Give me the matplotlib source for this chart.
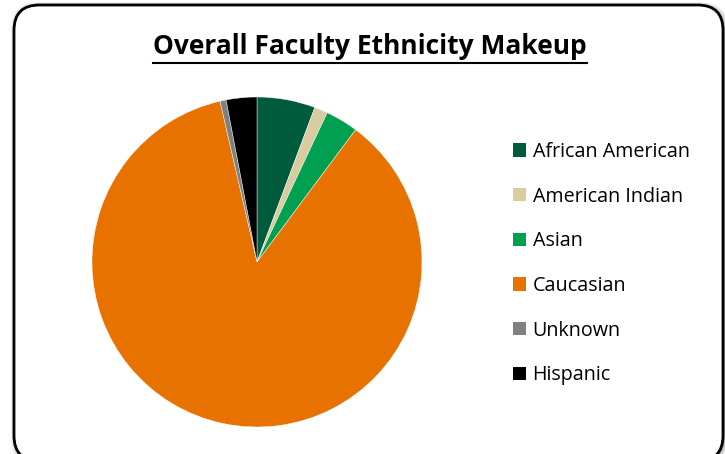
import matplotlib
matplotlib.use("Agg")
import matplotlib.pyplot as plt
from matplotlib.patches import FancyBboxPatch, Patch
from matplotlib.lines import Line2D

categories = ["African American", "American Indian", "Asian", "Caucasian", "Unknown", "Hispanic"]
values = [5.7, 1.3, 3.2, 86.2, 0.6, 3.0]
colors = ["#005A3C", "#D9CCA0", "#00A050", "#E87200", "#808080", "#000000"]
title = "Overall Faculty Ethnicity Makeup"

W, H = 725, 454
fig = plt.figure(figsize=(W / 100, H / 100), dpi=100)
fig.patch.set_facecolor("white")

def fx(px):
    return px / W

def fy(py):
    return 1 - py / H

BX0, BX1, BY0, BY1 = 14, 723, 5, 461

# soft shadow
for grow, a in [(4, 0.05), (3, 0.07), (2, 0.10), (1, 0.14)]:
    sh = FancyBboxPatch((fx(BX0 - grow + 1), fy(BY1 + grow + 1)),
                        fx(BX1 - BX0 + 2 * grow), (BY1 - BY0 + 2 * grow) / H,
                        boxstyle="round,pad=0,rounding_size=0.037",
                        transform=fig.transFigure, facecolor="black", edgecolor="none",
                        alpha=a, mutation_aspect=W / H, zorder=-3)
    fig.patches.append(sh)
box = FancyBboxPatch((fx(BX0), fy(BY1)), fx(BX1 - BX0), (BY1 - BY0) / H,
                     boxstyle="round,pad=0,rounding_size=0.035",
                     transform=fig.transFigure, facecolor="white", edgecolor="black",
                     linewidth=2, mutation_aspect=W / H, zorder=-2)
fig.patches.append(box)

ax = fig.add_axes([fx(92), fy(427), 330 / W, 330 / H])
ax.set_zorder(1)
ax.pie(values, colors=colors, startangle=90, counterclock=False,
       wedgeprops=dict(linewidth=0.3, edgecolor="white"))
ax.set_xlim(-1.0, 1.0)
ax.set_ylim(-1.0, 1.0)
ax.set_aspect("equal")
ax.axis("off")

t = fig.text(fx(370), fy(46), title, ha="center", va="center",
             fontsize=19, fontweight="bold", family="Open Sans", color="black", zorder=2)
fig.canvas.draw()
bb = t.get_window_extent(fig.canvas.get_renderer())
uy = fy(63)
fig.add_artist(Line2D([bb.x0 / W, bb.x1 / W], [uy, uy], transform=fig.transFigure,
                      color="black", linewidth=1.5, zorder=2))

handles = [Patch(facecolor=c, edgecolor="none") for c in colors]
leg = fig.legend(handles, categories, loc="upper left", bbox_to_anchor=(fx(505), fy(134)),
                 frameon=False, prop=dict(family="Open Sans", size=14.2),
                 handlelength=0.65, handleheight=0.65, handletextpad=0.35,
                 labelspacing=1.25, borderaxespad=0)
leg.set_zorder(2)

fig.savefig("out.png", dpi=100)
